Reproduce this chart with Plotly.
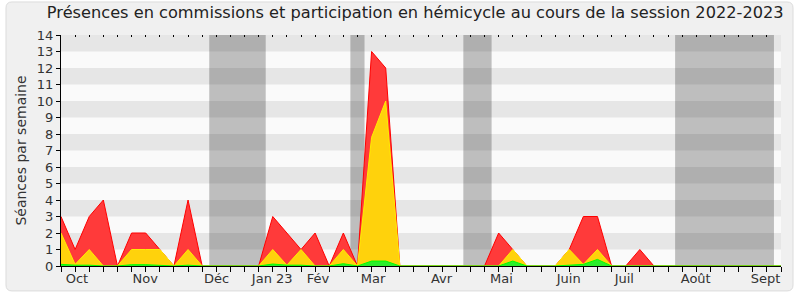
import plotly.graph_objects as go

weeks = list(range(52))
total = [3, 1, 3, 4, 0, 2, 2, 1, 0, 4, 0,
         0, 0, 0, 0,
         3, 2, 1, 2, 0, 2, 0,
         13, 12,
         0, 0, 0, 0, 0, 0, 0,
         2, 1, 0,
         0, 0,
         1, 3, 3,
         0, 0,
         1,
         0, 0, 0, 0, 0, 0, 0, 0, 0, 0]
yellow = [2, 0.1, 1, 0, 0, 1, 1, 1, 0, 1, 0,
          0, 0, 0, 0,
          1, 0.05, 1, 0, 0, 1, 0,
          7.8, 10,
          0, 0, 0, 0, 0, 0, 0,
          0, 1, 0,
          0, 0,
          1, 0.1, 1,
          0, 0,
          0,
          0, 0, 0, 0, 0, 0, 0, 0, 0, 0]
green = [0.1, 0.05, 0.05, 0, 0, 0.08, 0.08, 0.05, 0, 0.05, 0,
         0, 0, 0, 0,
         0.12, 0.05, 0.05, 0, 0, 0.14, 0,
         0.3, 0.3,
         0, 0, 0, 0, 0, 0, 0,
         0, 0.3, 0,
         0, 0,
         0.05, 0.1, 0.4,
         0, 0,
         0,
         0, 0, 0, 0, 0, 0, 0, 0, 0, 0]
vacations = [(10.5, 14.5), (20.5, 21.5), (28.5, 30.5), (43.5, 50.5)]
month_pos = [1.13, 5.96, 11.02, 14.96, 18.2, 22.1, 26.95, 31.2, 35.96, 39.9, 44.96, 49.9]
month_labels = ["Oct", "Nov", "Déc", "Jan 23", "Fév", "Mar", "Avr", "Mai", "Juin", "Juil", "Août", "Sept"]
y_max = 14

fig = go.Figure()
fig.add_trace(go.Scatter(x=weeks, y=total, mode="lines", fill="tozeroy",
                         line=dict(color="#FF0000", width=1), fillcolor="#FF3A3A",
                         hoverinfo="skip", showlegend=False))
fig.add_trace(go.Scatter(x=weeks, y=yellow, mode="lines", fill="tozeroy",
                         line=dict(color="#FFEE00", width=1), fillcolor="#FFD20C",
                         hoverinfo="skip", showlegend=False))
fig.add_trace(go.Scatter(x=weeks, y=green, mode="lines", fill="tozeroy",
                         line=dict(color="#00FF00", width=1), fillcolor="#2BEE2B",
                         hoverinfo="skip", showlegend=False))
fig.add_trace(go.Scatter(x=[0], y=[0], xaxis="x2", mode="markers",
                         marker=dict(opacity=0), hoverinfo="skip", showlegend=False))

shapes = []
# outer frame
rx, ry = 6 / 720, 6 / 231
x0, x1, y0, y1 = -0.0764, 1.0167, -0.108, 1.143
path = (f"M {x0+rx},{y0} L {x1-rx},{y0} Q {x1},{y0} {x1},{y0+ry} "
        f"L {x1},{y1-ry} Q {x1},{y1} {x1-rx},{y1} L {x0+rx},{y1} Q {x0},{y1} {x0},{y1-ry} "
        f"L {x0},{y0+ry} Q {x0},{y0} {x0+rx},{y0} Z")
shapes.append(dict(type="path", xref="paper", yref="paper", path=path,
                   fillcolor="#F0F0F0", line=dict(color="#DCDCDC", width=1), layer="below"))
shapes.append(dict(type="rect", xref="paper", yref="paper", x0=0, x1=1, y0=0, y1=1,
                   fillcolor="#FAFAFA", line=dict(width=0), layer="below"))
for k in range(1, y_max, 2):
    shapes.append(dict(type="rect", xref="paper", yref="y", x0=0, x1=1, y0=k, y1=k + 1,
                       fillcolor="#E6E6E6", line=dict(width=0), layer="below"))
for a, b in vacations:
    shapes.append(dict(type="rect", xref="x", yref="paper", x0=a, x1=b, y0=0, y1=1,
                       fillcolor="rgba(10,10,10,0.25)", line=dict(width=0), layer="below"))

fig.update_layout(
    width=800, height=300,
    margin=dict(l=61, r=19, t=35, b=34),
    paper_bgcolor="white", plot_bgcolor="#FAFAFA",
    font=dict(family="DejaVu Sans", size=13, color="#333333"),
    title=dict(text="Présences en commissions et participation en hémicycle au cours de la session 2022-2023",
               x=0.492, xref="paper", y=0.96, yanchor="middle", xanchor="center",
               font=dict(size=16.2, color="#222222")),
    shapes=shapes,
    xaxis=dict(range=[0, 51], tickvals=month_pos, ticktext=month_labels, ticks="",
               showgrid=False, zeroline=False, showline=True, linecolor="#000000", linewidth=1,
               tickfont=dict(size=13, color="#333333"),
               minor=dict(tickvals=weeks, ticks="outside", ticklen=5, tickcolor="#000000",
                          showgrid=False)),
    xaxis2=dict(range=[0, 51], overlaying="x", side="top", tickvals=weeks, ticks="inside",
                ticklen=2, tickcolor="#000000", showticklabels=False, showgrid=False,
                zeroline=False, showline=False),
    yaxis=dict(range=[0, y_max], dtick=1, tick0=0, ticks="outside", ticklen=4, tickcolor="#000000",
               showgrid=False, zeroline=False, showline=True, linecolor="#000000", linewidth=1,
               tickfont=dict(size=13, color="#333333"),
               title=dict(text="Séances par semaine", font=dict(size=14, color="#333333"), standoff=6)),
)

fig.write_html("out.html")
